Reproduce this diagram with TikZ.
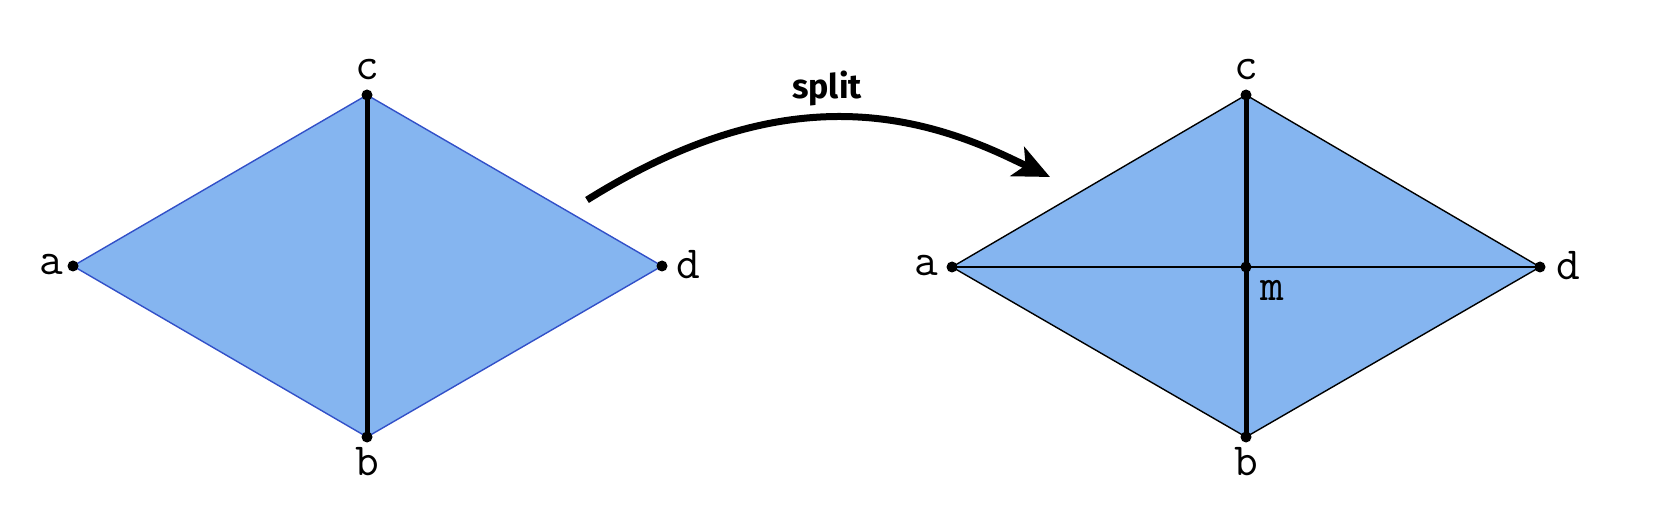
\documentclass[tikz,border=0pt]{standalone}
\usepackage{fontspec}
\newfontfamily\splitfont{Fira Sans}
\usetikzlibrary{arrows.meta}
\definecolor{fillblue}{RGB}{133,181,240}
\definecolor{edgeblue}{RGB}{50,80,200}
\tikzset{
  vdot/.style={circle,fill=black,inner sep=0pt,minimum size=11pt},
  lbl/.style={font=\fontsize{46}{46}\selectfont\ttfamily,inner sep=0pt},
  thickedge/.style={line width=5pt},
  thinedge/.style={line width=1.4pt},
  splitarrow/.style={line width=7pt,-{Stealth[length=36pt,width=32pt,inset=9pt]}},
}
\begin{document}
\begin{tikzpicture}[x=1pt,y=-1pt]
\useasboundingbox (0,0) rectangle (1656,518);
% left diamond
\coordinate (la) at (73,266);
\coordinate (lc) at (367,95);
\coordinate (lb) at (367,437);
\coordinate (ld) at (662,266);
\filldraw[fill=fillblue,draw=edgeblue,thinedge] (la) -- (lc) -- (ld) -- (lb) -- cycle;
\draw[thickedge] (lc) -- (lb);
\node[vdot] (lad) at (la) {};
\node[vdot] (lcd) at (lc) {};
\node[vdot] (lbd) at (lb) {};
\node[vdot] (ldd) at (ld) {};
\node[lbl] (laL) at (51,265) {a};
\node[lbl] (lcL) at (367,70) {c};
\node[lbl] (lbL) at (367,462) {b};
\node[lbl] (ldL) at (688,265) {d};
% right diamond
\coordinate (ra) at (952,267);
\coordinate (rc) at (1246,95);
\coordinate (rb) at (1246,437);
\coordinate (rd) at (1540,267);
\coordinate (rm) at (1246,267);
\filldraw[fill=fillblue,draw=black,thinedge] (ra) -- (rc) -- (rd) -- (rb) -- cycle;
\draw[thinedge] (ra) -- (rd);
\draw[thickedge] (rc) -- (rb);
\node[vdot] (rad) at (ra) {};
\node[vdot] (rcd) at (rc) {};
\node[vdot] (rbd) at (rb) {};
\node[vdot] (rdd) at (rd) {};
\node[vdot] (rmd) at (rm) {};
\node[lbl] (raL) at (926,266) {a};
\node[lbl] (rcL) at (1246,70) {c};
\node[lbl] (rbL) at (1246,462) {b};
\node[lbl] (rdL) at (1568,266) {d};
\node[lbl] (rmL) at (1272,290) {m};
% arrow
\coordinate (as) at (587,200);
\coordinate (am) at (1010,158);
\coordinate (ae) at (1050,177);
\draw[splitarrow] (as) .. controls (760,92) and (890,101) .. (am) -- (ae);
\node[font=\fontsize{34}{34}\splitfont\bfseries] (splitL) at (827,88) {split};
\end{tikzpicture}
\end{document}
